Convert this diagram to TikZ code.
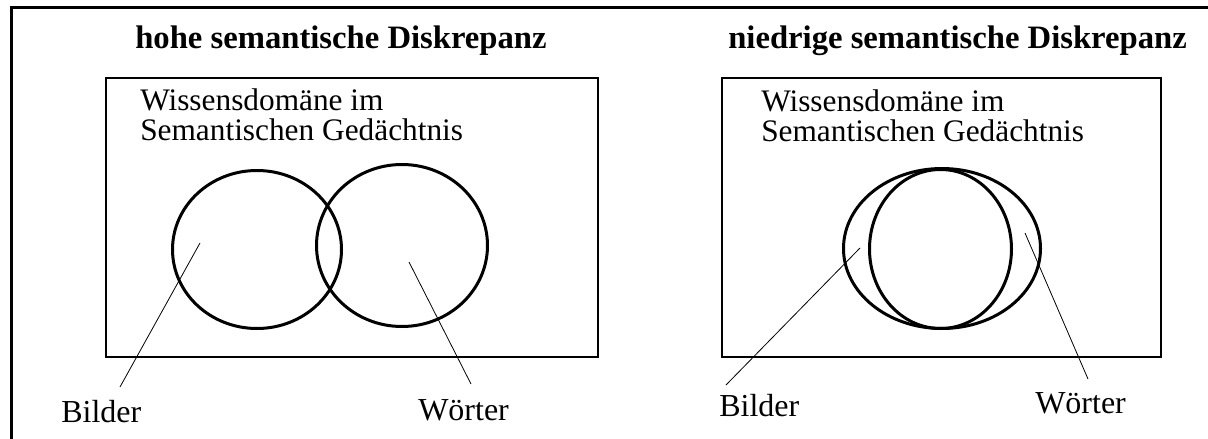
\documentclass[tikz,border=0pt]{standalone}
\usepackage{fontspec}
\setmainfont{Liberation Serif}
\usetikzlibrary{shapes.geometric}
\begin{document}
\begin{tikzpicture}[x=0.75pt,y=-0.75pt,titel/.style={font=\fontsize{24.5}{29}\selectfont\bfseries,anchor=base west,inner sep=0},txt/.style={font=\fontsize{23.5}{22.5}\selectfont,align=left,anchor=north west,inner sep=0},lbl/.style={font=\fontsize{24}{29}\selectfont,anchor=base west,inner sep=0},feld/.style={draw,line width=1.5pt},kreis/.style={draw,ellipse,line width=2.25pt,inner sep=0},a/.style={line width=0.6pt}]
\path[use as bounding box,fill=white] (0,0) rectangle (1208,439);
\draw[line width=2.25pt] (11,439) -- (11,7) -- (1208,7);
% linke Seite
\node[titel] (hoch) at (135,48) {hohe semantische Diskrepanz};
\draw[feld] (106,78) rectangle (598,357);
\node[txt] (domL) at (140,88) {Wissensdomäne im\\Semantischen Gedächtnis};
\node[kreis,minimum width=126.75pt,minimum height=118.5pt] (bildL) at (257,249.5) {};
\node[kreis,minimum width=128.25pt,minimum height=121.5pt] (wortL) at (402,245.5) {};
\node[lbl] (lblBildL) at (61,422) {Bilder};
\node[lbl] (lblWortL) at (418,420) {Wörter};
\coordinate (pBildL) at (200,243); \coordinate (qBildL) at (120,387);
\coordinate (pWortL) at (409,262); \coordinate (qWortL) at (471,384);
\draw[a] (pBildL) -- (qBildL); \draw[a] (pWortL) -- (qWortL);
% rechte Seite
\node[titel] (niedrig) at (728,48) {niedrige semantische Diskrepanz};
\draw[feld] (722,78) rectangle (1161,357);
\node[txt] (domR) at (761,89) {Wissensdomäne im\\Semantischen Gedächtnis};
\node[kreis,minimum width=147.75pt,minimum height=120pt] (aussenR) at (942,248.5) {};
\node[kreis,minimum width=106.5pt,minimum height=119.25pt] (innenR) at (940.5,249) {};
\node[lbl] (lblBildR) at (719,416) {Bilder};
\node[lbl] (lblWortR) at (1035,413) {Wörter};
\coordinate (pBildR) at (860,248); \coordinate (qBildR) at (726,385);
\coordinate (pWortR) at (1025,233); \coordinate (qWortR) at (1088,379);
\draw[a] (pBildR) -- (qBildR); \draw[a] (pWortR) -- (qWortR);
\end{tikzpicture}
\end{document}
